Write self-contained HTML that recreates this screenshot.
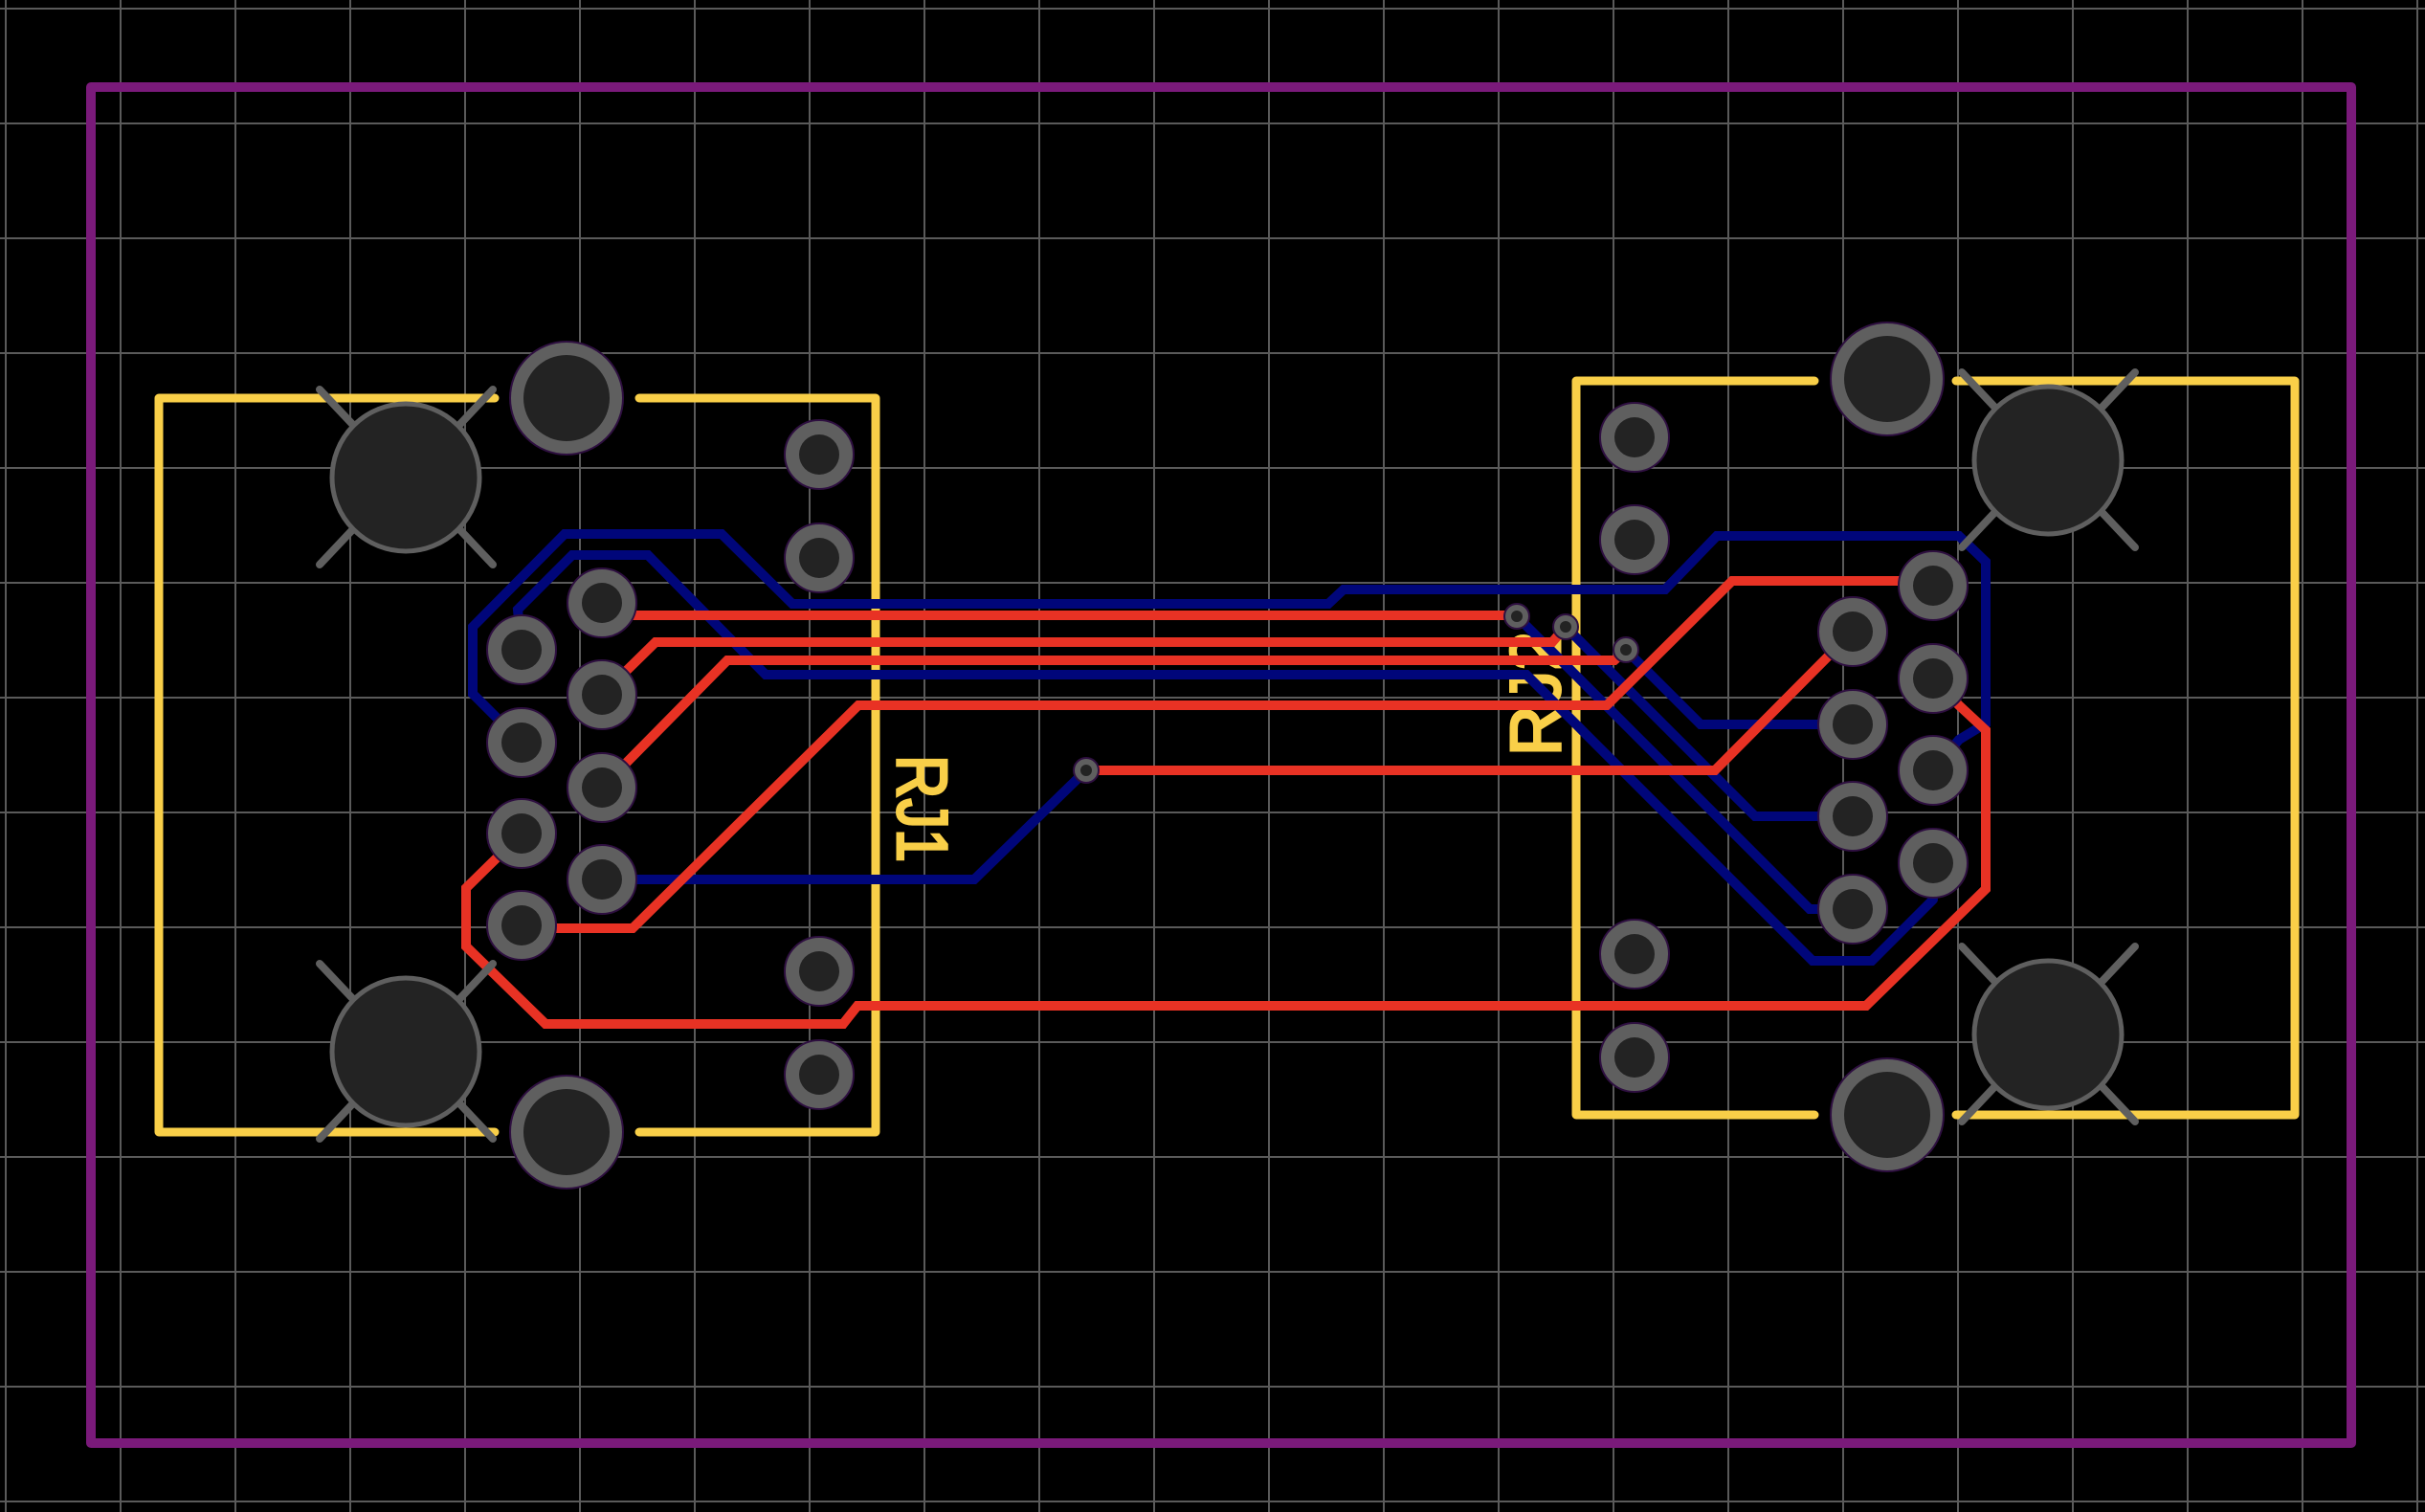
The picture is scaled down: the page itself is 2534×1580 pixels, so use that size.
<!DOCTYPE html>
<html><head><meta charset="utf-8"><style>html,body{margin:0;padding:0;background:#000;}svg{display:block;}</style></head>
<body>
<svg width="2534" height="1580" viewBox="0 0 2534 1580" xmlns="http://www.w3.org/2000/svg">
<rect width="2534" height="1580" fill="#000"/>
<g stroke="#5a5a5a" stroke-width="2">
<path d="M6 0V1580M126 0V1580M246 0V1580M366 0V1580M486 0V1580M606 0V1580M726 0V1580M846 0V1580M966 0V1580M1086 0V1580M1206 0V1580M1326 0V1580M1446 0V1580M1566 0V1580M1686 0V1580M1806 0V1580M1926 0V1580M2046 0V1580M2166 0V1580M2286 0V1580M2406 0V1580M2526 0V1580"/>
<path d="M0 9H2534M0 129H2534M0 249H2534M0 369H2534M0 489H2534M0 609H2534M0 729H2534M0 849H2534M0 969H2534M0 1089H2534M0 1209H2534M0 1329H2534M0 1449H2534M0 1569H2534"/>
</g>
<rect x="95" y="91" width="2362" height="1417" fill="none" stroke="#7a1a7a" stroke-width="10" stroke-linejoin="round"/>
<g fill="none" stroke="#f9cf48" stroke-width="9" stroke-linecap="round" stroke-linejoin="round">
<path d="M517 416H166V1183H517M668 416H915V1183H668"/>
<path d="M1896 398H1647V1165H1896M2044 398H2398V1165H2044"/>
</g>
<g fill="#f9cf48" stroke="#f9cf48" stroke-width="3" font-family="'Liberation Sans',sans-serif" font-size="74">
<text transform="translate(938,845) rotate(90)" text-anchor="middle" textLength="112" lengthAdjust="spacingAndGlyphs">RJ1</text>
<text transform="translate(1630,725) rotate(-90)" text-anchor="middle" textLength="130" lengthAdjust="spacingAndGlyphs">RJ2</text>
</g>
<g fill="none" stroke-width="10" stroke-linejoin="miter" stroke-linecap="round">
<g stroke="#00067a">
<path d="M545 776L494 725V655L590 558H754L828 631H1388L1404 616H1740L1794 560H2047L2075 587V756L2047 773L2020 805"/>
<path d="M545 679L541 637L598 580H677L800 705H1595L1894 1004H1956L2020 940"/>
<path d="M629 919H1018L1135 805"/>
<path d="M1585 644L1891 950H1936"/>
<path d="M1636 655L1834 853H1936"/>
<path d="M1699 679L1777 757H1936"/>
</g>
<g stroke="#e83224">
<path d="M629 643H1585"/>
<path d="M629 726L685 671H1622L1636 655"/>
<path d="M629 823L760 690H1687L1699 679"/>
<path d="M545 970H661L897 737H1679L1810 607H2020"/>
<path d="M1135 805H1792L1936 660"/>
<path d="M545 871L487 928V989L570 1070H881L896 1051H1950L2075 929V763L2047 737L2020 709"/>
</g>
</g>
<g stroke="#5f5f5f" stroke-width="8" stroke-linecap="round">
<path d="M334 407L368 443M515 407L481 443M334 590L368 554M515 590L481 554"/>
<path d="M334 1007L368 1043M515 1007L481 1043M334 1190L368 1154M515 1190L481 1154"/>
<path d="M2050 389L2084 425M2231 389L2197 425M2050 572L2084 536M2231 572L2197 536"/>
<path d="M2050 989L2084 1025M2231 989L2197 1025M2050 1172L2084 1136M2231 1172L2197 1136"/>
</g>
<g fill="#232323" stroke="#5f5f5f" stroke-width="5">
<circle cx="424" cy="499" r="77"/><circle cx="424" cy="1099" r="77"/>
<circle cx="2140" cy="481" r="77"/><circle cx="2140" cy="1081" r="77"/>
</g>
<g fill="#5f5f5f" stroke="#2e0f40" stroke-width="2">
<circle cx="592" cy="416" r="59"/><circle cx="592" cy="1183" r="59"/>
<circle cx="1972" cy="396" r="59"/><circle cx="1972" cy="1165" r="59"/>
<circle cx="856" cy="475" r="36"/><circle cx="856" cy="583" r="36"/><circle cx="856" cy="1015" r="36"/><circle cx="856" cy="1123" r="36"/>
<circle cx="1708" cy="457" r="36"/><circle cx="1708" cy="564" r="36"/><circle cx="1708" cy="997" r="36"/><circle cx="1708" cy="1105" r="36"/>
<circle cx="545" cy="679" r="36"/><circle cx="545" cy="776" r="36"/><circle cx="545" cy="871" r="36"/><circle cx="545" cy="967" r="36"/>
<circle cx="629" cy="630" r="36"/><circle cx="629" cy="726" r="36"/><circle cx="629" cy="823" r="36"/><circle cx="629" cy="919" r="36"/>
<circle cx="1936" cy="660" r="36"/><circle cx="1936" cy="757" r="36"/><circle cx="1936" cy="853" r="36"/><circle cx="1936" cy="950" r="36"/>
<circle cx="2020" cy="612" r="36"/><circle cx="2020" cy="709" r="36"/><circle cx="2020" cy="805" r="36"/><circle cx="2020" cy="902" r="36"/>
<circle cx="1585" cy="644" r="13"/><circle cx="1636" cy="655" r="13"/><circle cx="1699" cy="679" r="13"/><circle cx="1135" cy="805" r="13"/>
</g>
<g fill="#232323">
<circle cx="592" cy="416" r="45"/><circle cx="592" cy="1183" r="45"/>
<circle cx="1972" cy="396" r="45"/><circle cx="1972" cy="1165" r="45"/>
<circle cx="856" cy="475" r="21"/><circle cx="856" cy="583" r="21"/><circle cx="856" cy="1015" r="21"/><circle cx="856" cy="1123" r="21"/>
<circle cx="1708" cy="457" r="21"/><circle cx="1708" cy="564" r="21"/><circle cx="1708" cy="997" r="21"/><circle cx="1708" cy="1105" r="21"/>
<circle cx="545" cy="679" r="21"/><circle cx="545" cy="776" r="21"/><circle cx="545" cy="871" r="21"/><circle cx="545" cy="967" r="21"/>
<circle cx="629" cy="630" r="21"/><circle cx="629" cy="726" r="21"/><circle cx="629" cy="823" r="21"/><circle cx="629" cy="919" r="21"/>
<circle cx="1936" cy="660" r="21"/><circle cx="1936" cy="757" r="21"/><circle cx="1936" cy="853" r="21"/><circle cx="1936" cy="950" r="21"/>
<circle cx="2020" cy="612" r="21"/><circle cx="2020" cy="709" r="21"/><circle cx="2020" cy="805" r="21"/><circle cx="2020" cy="902" r="21"/>
<circle cx="1585" cy="644" r="6"/><circle cx="1636" cy="655" r="6"/><circle cx="1699" cy="679" r="6"/><circle cx="1135" cy="805" r="6"/>
</g>
</svg>
</body></html>
